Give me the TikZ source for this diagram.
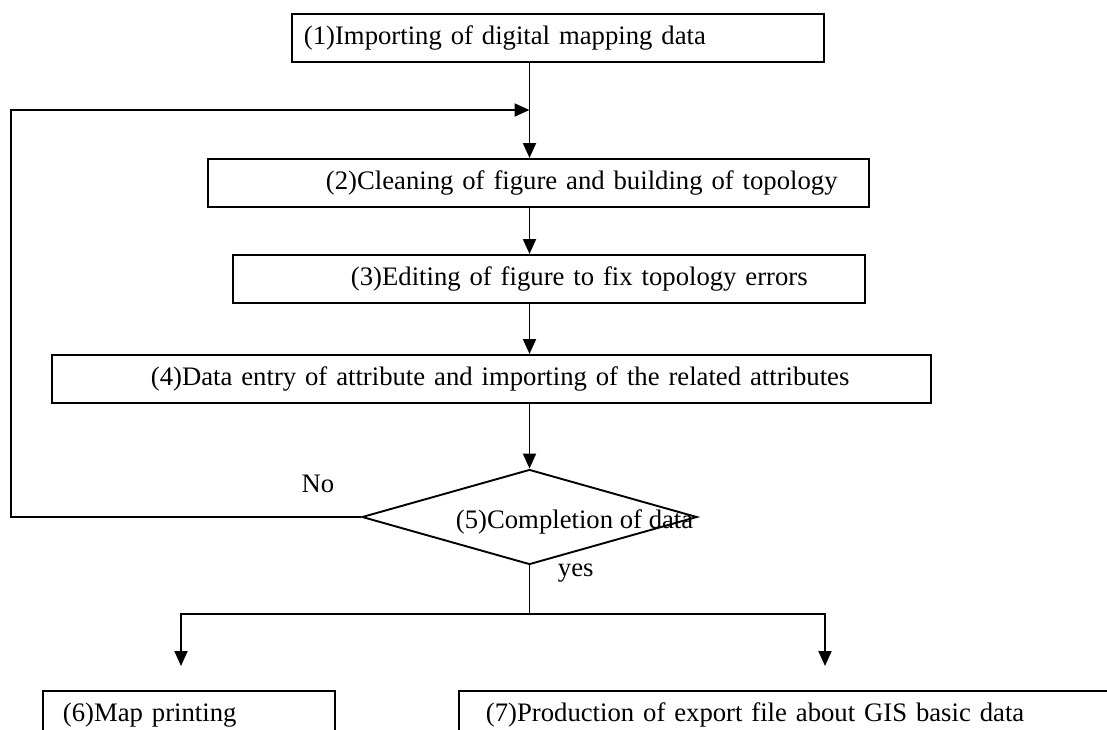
\documentclass[tikz,border=0pt]{standalone}
\usepackage{fontspec}
\setmainfont{Liberation Serif}
\usetikzlibrary{arrows.meta,shapes.geometric}

\begin{document}
\begin{tikzpicture}[x=1pt,y=-1pt,line width=1.9pt,
  font=\fontsize{26.7}{32}\selectfont,
  stepbox/.style={draw,anchor=north west,inner sep=0pt,minimum height=48pt,align=left},
  decide/.style={draw,diamond,inner sep=0pt,minimum width=335pt,minimum height=95pt},
  flow/.style={-{Triangle[length=15pt,width=13pt]}}]
  \useasboundingbox (0,0) rectangle (1107,729);
  \clip (0,0) rectangle (1107,729);
  % process steps
  \node[stepbox,text width=532pt] (b1) at (291,13) {\hspace*{12pt}(1)Importing of digital mapping data};
  \node[stepbox,text width=661pt] (b2) at (207,158) {\hspace*{118pt}(2)Cleaning of figure and building of topology};
  \node[stepbox,text width=632pt] (b3) at (232,254) {\hspace*{118pt}(3)Editing of figure to fix topology errors};
  \node[stepbox,text width=879pt] (b4) at (51,354) {\hspace*{99pt}(4)Data entry of attribute and importing of the related attributes};
  \node[decide] (d5) at (529.5,517) {};
  \node[anchor=base west,inner sep=0pt] (t5) at (455,528) {(5)Completion of data};
  \node[stepbox,text width=292pt] (b6) at (42,690) {\hspace*{20pt}(6)Map printing};
  \node[stepbox,text width=700pt] (b7) at (458,690) {\hspace*{27pt}(7)Production of export file about GIS basic data};
  \node (no) at (318,484) {No};
  \node[anchor=base west,inner sep=0pt] (yes) at (557,576) {yes};
  % connectors
  \coordinate (j1) at (529.5,110);
  \coordinate (corner) at (11,110);
  \coordinate (split) at (529.5,614);
  \coordinate (a6) at (181,666);
  \coordinate (a7) at (825,666);
  \draw[flow] (b1.south -| d5.north) -- (b2.north -| d5.north);
  \draw[flow] (d5.west) -| (corner) -- (j1);
  \draw[flow] (b2.south -| d5.north) -- (b3.north -| d5.north);
  \draw[flow] (b3.south -| d5.north) -- (b4.north -| d5.north);
  \draw[flow] (b4.south -| d5.north) -- (d5.north);
  \draw (d5.south) -- (split);
  \draw[flow] (split) -| (a6);
  \draw[flow] (split) -| (a7);
\end{tikzpicture}
\end{document}
